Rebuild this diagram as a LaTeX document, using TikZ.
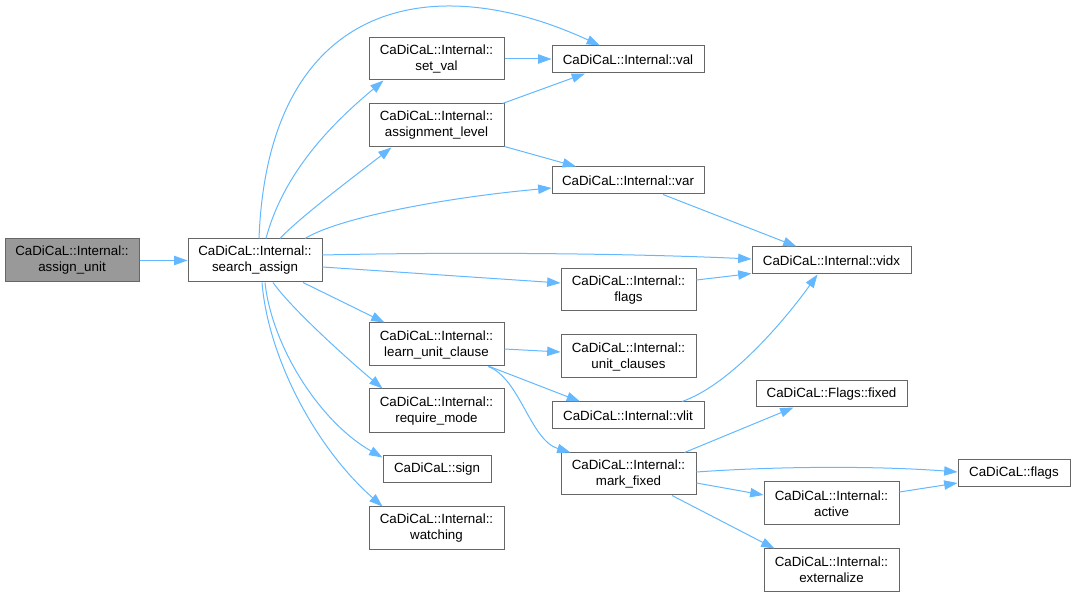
\documentclass[tikz,border=0pt]{standalone}
\usepackage{fontspec}
\setmainfont{Liberation Sans}
\usetikzlibrary{arrows.meta,calc}
\definecolor{edgec}{HTML}{63B8FF}
\definecolor{bordc}{HTML}{666666}
\definecolor{greyf}{HTML}{999999}
\begin{document}
\begin{tikzpicture}[x=0.75pt,y=0.75pt,
 fn/.style={draw=bordc,line width=0.75pt,fill=white,inner sep=0pt,align=center,
   font=\fontsize{10}{12}\selectfont,minimum height=32.25pt,minimum width=101.25pt},
 fn1/.style={fn,minimum height=20.25pt},
 edge/.style={draw=edgec,line width=0.75pt,-{Triangle[length=10pt,width=7pt]}}]
\useasboundingbox (0,0) rectangle (1076,597);

\node[fn,fill=greyf,minimum width=100.5pt] (au) at (72,336.5) {CaDiCaL::Internal::\\assign\_unit};
\node[fn,minimum width=100.5pt] (sa) at (255,336.5) {CaDiCaL::Internal::\\search\_assign};
\node[fn,minimum height=31.5pt] (setval) at (436.5,538) {CaDiCaL::Internal::\\set\_val};
\node[fn1,minimum width=114pt] (val) at (628,537.5) {CaDiCaL::Internal::val};
\node[fn] (alev) at (436.5,471.5) {CaDiCaL::Internal::\\assignment\_level};
\node[fn1,minimum width=114pt] (var) at (628,416.5) {CaDiCaL::Internal::var};
\node[fn1,minimum width=119.25pt] (vidx) at (831.5,336.5) {CaDiCaL::Internal::vidx};
\node[fn,minimum height=31.5pt] (iflags) at (628.5,307) {CaDiCaL::Internal::\\flags};
\node[fn] (luc) at (436.5,252.5) {CaDiCaL::Internal::\\learn\_unit\_clause};
\node[fn] (uc) at (628.5,240.5) {CaDiCaL::Internal::\\unit\_clauses};
\node[fn1,minimum width=114pt] (vlit) at (628,181.5) {CaDiCaL::Internal::vlit};
\node[fn,minimum height=33pt] (rm) at (436.5,186) {CaDiCaL::Internal::\\require\_mode};
\node[fn1,minimum width=81pt] (sign) at (437,127.5) {CaDiCaL::sign};
\node[fn] (watch) at (436.5,68.5) {CaDiCaL::Internal::\\watching};
\node[fn1,minimum width=113.25pt,minimum height=19.5pt] (ffixed) at (831.5,203) {CaDiCaL::Flags::fixed};
\node[fn,minimum height=31.5pt] (mf) at (628.5,123) {CaDiCaL::Internal::\\mark\_fixed};
\node[fn1,minimum width=84pt] (cflags) at (1014,123.5) {CaDiCaL::flags};
\node[fn] (active) at (831.5,93.5) {CaDiCaL::Internal::\\active};
\node[fn,minimum height=31.5pt] (ext) at (831.5,27) {CaDiCaL::Internal::\\externalize};

% edges
\draw[edge] (au.east) -- (sa.west);
\draw[edge] ($(sa.north)+(4,0)$) .. controls (268,595) and (430,630) .. ($(val.north)+(-28,0)$);
\draw[edge] ($(sa.north)+(11,0)$) .. controls (285,430) and (340,480) .. ($(setval.south west)+(15,0)$);
\draw[edge] ($(sa.north)+(25,0)$) .. controls (300,380) and (360,425) .. ($(alev.south west)+(23,0)$);
\draw[edge] ($(sa.north)+(50,0)$) .. controls (340,380) and (450,400) .. ($(var.west)+(0,-7.5)$);
\draw[edge] ($(sa.east)+(0,5.5)$) .. controls (450,345) and (620,344) .. ($(vidx.west)+(0,1.5)$);
\draw[edge] ($(sa.east)+(0,-6.5)$) -- ($(iflags.west)+(0,7)$);
\draw[edge] ($(sa.south)+(48,0)$) -- ($(luc.north west)+(16,0)$);
\draw[edge] ($(sa.south)+(18,0)$) .. controls (290,290) and (345,240) .. ($(rm.north west)+(14,0)$);
\draw[edge] ($(sa.south)+(10,0)$) .. controls (272,250) and (320,175) .. ($(sign.north west)+(0,-2)$);
\draw[edge] ($(sa.south)+(7,0)$) .. controls (268,240) and (315,150) .. ($(watch.north west)+(14,0)$);
\draw[edge] (setval.east) -- (setval.east -| val.west);
\draw[edge] ($(alev.north east)+(-2,0)$) -- ($(val.south)+(-43,0)$);
\draw[edge] ($(alev.south east)+(0,1)$) -- ($(var.north)+(-52,0)$);
\draw[edge] ($(var.south)+(35,0)$) -- ($(vidx.north)+(-35,0)$);
\draw[edge] ($(iflags.east)+(0,10)$) -- ($(vidx.south west)+(0,1)$);
\draw[edge] ($(luc.east)+(0,-4.5)$) -- ($(uc.west)+(0,4.5)$);
\draw[edge] ($(luc.south)+(53,0)$) -- ($(vlit.north)+(-48,0)$);
\draw[edge] ($(luc.south)+(51.5,0)$) .. controls (520,219) and (530,157) .. ($(mf.north west)+(10,0)$);
\draw[edge] ($(vlit.north)+(54,0)$) .. controls (730,212) and (785,277) .. ($(vidx.south)+(-14,0)$);
\draw[edge] ($(mf.north)+(56,0)$) -- ($(ffixed.south)+(-38,0)$);
\draw[edge] ($(mf.east)+(0,2)$) .. controls (780,131) and (880,131) .. ($(cflags.west)+(0,1.5)$);
\draw[edge] ($(mf.east)+(0,-9)$) -- ($(active.west)+(0,8.5)$);
\draw[edge] ($(mf.south)+(43.5,0)$) -- ($(ext.north)+(-57,0)$);
\draw[edge] ($(active.east)+(0,11.5)$) -- ($(cflags.west)+(0,-9.5)$);
\end{tikzpicture}
\end{document}
